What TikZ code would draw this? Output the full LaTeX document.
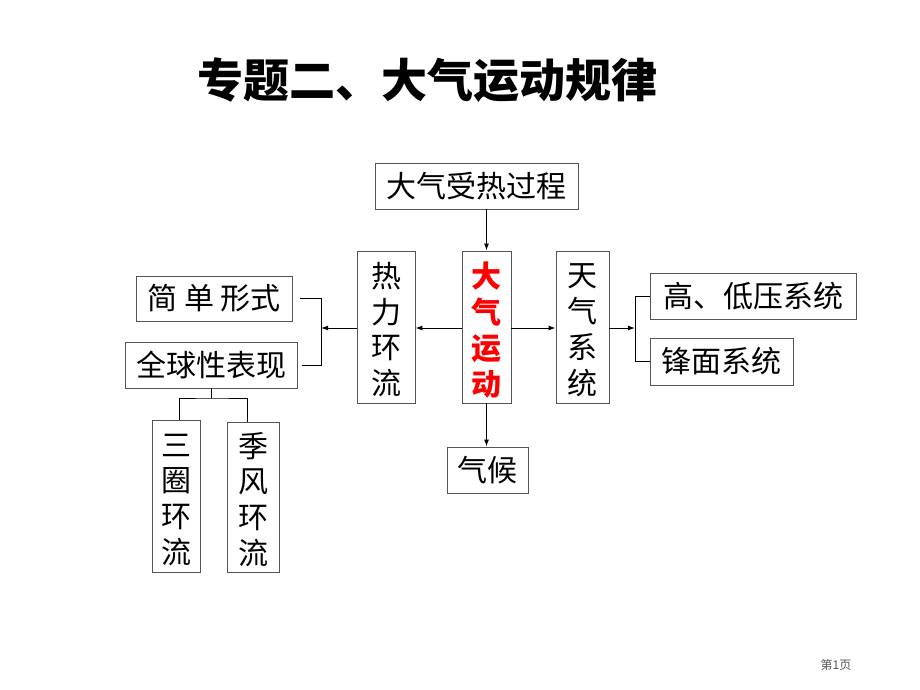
\documentclass[tikz,border=0pt]{standalone}
\usepackage{fontspec}
\setmainfont{Noto Sans CJK SC}
\usetikzlibrary{positioning, calc, arrows.meta}
\definecolor{boxgray}{RGB}{85,85,85}
\renewcommand{\arraystretch}{0.97}
\newcommand{\vcol}[1]{\raisebox{-13pt}[0pt][0pt]{\begin{tabular}{@{}c@{}}#1\end{tabular}}}

\begin{document}
\begin{tikzpicture}[>={Latex[length=7pt,width=5pt]}, x=1pt, y=-1pt,
		box/.style={draw=boxgray, line width=0.9pt, inner sep=0pt, align=center, font=\fontsize{30}{37}\selectfont},
		vbox/.style={box, minimum height=152pt},
		link/.style={line width=1pt}]
		\useasboundingbox (0,0) rectangle (920,690);
		% title
		\node[font=\fontsize{46}{50}\selectfont\bfseries] (title) at (427,80) {专题二、大气运动规律};
		
		% middle column
		\node[box, minimum width=203pt, minimum height=46pt] (heat) at (476.5,186) {大气受热过程};
		\node[vbox, minimum width=49pt, text=red, font=\fontsize{30}{37}\selectfont\bfseries] (move) at (486.5,327) {\vcol{大\\气\\运\\动}};
		\node[box, minimum width=81pt, minimum height=46pt] (climate) at (487.5,470) {气候};
		\node[vbox, minimum width=58pt] (circ) at (386,327) {\vcol{热\\力\\环\\流}};
		\node[vbox, minimum width=53pt] (weather) at (582.5,327) {\vcol{天\\气\\系\\统}};
		
		% right side
		\node[box, minimum width=206pt, minimum height=46pt] (press) at (753,296) {高、低压系统};
		\node[box, minimum width=143pt, minimum height=47pt] (front) at (721.5,361.5) {锋面系统};
		
		% left side
		\node[box, minimum width=156pt, minimum height=45pt] (simple) at (214,298.5) {简 单 形式};
		\node[box, minimum width=172pt, minimum height=46pt] (glob) at (211,365) {全球性表现};
		\node[vbox, minimum width=48pt] (three) at (176,496) {\vcol{三\\圈\\环\\流}};
		\node[vbox, minimum width=52pt, minimum height=150pt] (mons) at (253,497) {\vcol{季\\风\\环\\流}};
		
		\node[text=boxgray, font=\fontsize{12}{14}\selectfont] (page) at (836,665) {第1页};
		
		% connectors
		\coordinate (rb) at (635,328);
		\coordinate (lb) at (321,328);
		\coordinate (gt) at (211,398);
		\draw[link, ->] (move.north |- heat.south) -- (move.north);
		\draw[link, ->] (move.south) -- (move.south |- climate.north);
		\draw[link, ->] (move.west |- lb) -- (circ.east |- lb);
		\draw[link, ->] (move.east |- rb) -- (weather.west |- rb);
		\draw[link, ->] (weather.east |- rb) -- (rb);
		\draw[link] (press.west) -| (rb) |- (front.west);
		\draw[link, ->] (circ.west |- lb) -- (lb);
		\draw[link, shorten <=8pt] (simple.east) -| (lb);
		\draw[link, shorten <=5pt] (glob.east) -| (lb);
		\draw[link] (glob.south) -- (gt);
		\draw[link] ([xshift=3pt]three.north) |- (gt) -| ([xshift=-6pt]mons.north);
\end{tikzpicture}
\end{document}
